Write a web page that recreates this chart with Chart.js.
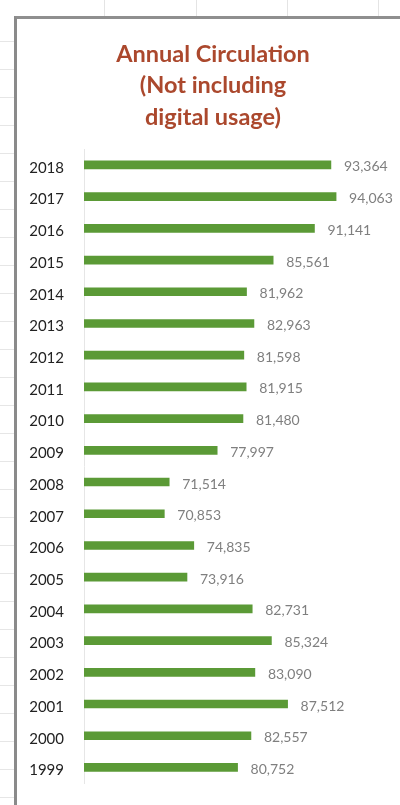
<!DOCTYPE html>
<html>
<head>
<meta charset="utf-8">
<script src="https://cdn.jsdelivr.net/npm/chart.js@4/dist/chart.umd.min.js"></script>
<style>
  html, body { margin: 0; padding: 0; width: 400px; height: 805px; overflow: hidden; background: #ffffff; }
  #sheet {
    position: absolute; left: 0; top: 0; width: 400px; height: 805px;
    background:
      linear-gradient(to right, transparent 104px, #e4e4e4 104px, #e4e4e4 105px, transparent 105px,
                                transparent 196px, #e4e4e4 196px, #e4e4e4 197px, transparent 197px,
                                transparent 287px, #e4e4e4 287px, #e4e4e4 288px, transparent 288px,
                                transparent 378px, #e4e4e4 378px, #e4e4e4 379px, transparent 379px) 0 0 / 400px 16px no-repeat,
      repeating-linear-gradient(to bottom, transparent 0px, transparent 27px, #e6e6e6 27px, #e6e6e6 28px) 0 14px / 14px 805px no-repeat;
  }
  #box {
    position: absolute; left: 14px; top: 16px; width: 386px; height: 789px;
    border-left: 3px solid #8a8a8a; border-top: 3px solid #8f8f8f;
    background: #ffffff;
  }
  #wrap { position: absolute; left: 17px; top: 19px; width: 383px; height: 786px; }
</style>
</head>
<body>
<div id="sheet"></div>
<div id="box"></div>
<div id="wrap"><canvas id="c"></canvas></div>
<script>
const years = ['1999','2000','2001','2002','2003','2004','2005','2006','2007','2008',
               '2009','2010','2011','2012','2013','2014','2015','2016','2017','2018'];
const circulation = [80752, 82557, 87512, 83090, 85324, 82731, 73916, 74835, 70853, 71514,
                     77997, 81480, 81915, 81598, 82963, 81962, 85561, 91141, 94063, 93364];
const titleLines = ['Annual Circulation', '(Not including', 'digital usage)'];
const axisMin = 60000;
const axisMax = 102700;

const labelPlugin = {
  id: 'barLabels',
  afterDatasetsDraw(chart) {
    const ctx = chart.ctx;
    const meta = chart.getDatasetMeta(0);
    ctx.save();
    ctx.font = '14px Lato';
    ctx.fillStyle = '#7f7f7f';
    ctx.textAlign = 'left';
    ctx.textBaseline = 'middle';
    meta.data.forEach((bar, i) => {
      ctx.fillText(circulation[i].toLocaleString('en-US'), bar.x + 13, bar.y + 2);
    });
    ctx.restore();
  }
};

new Chart(document.getElementById('c'), {
  type: 'bar',
  data: {
    labels: years,
    datasets: [{
      data: circulation,
      backgroundColor: '#5b9a36',
      borderWidth: 0,
      barThickness: 8
    }]
  },
  options: {
    indexAxis: 'y',
    responsive: true,
    maintainAspectRatio: false,
    animation: false,
    layout: { padding: { left: 9, right: 0, top: 0, bottom: 21.7 } },
    plugins: {
      legend: { display: false },
      tooltip: { enabled: false },
      title: {
        display: true,
        text: titleLines,
        color: '#ab482d',
        font: { family: 'Lato', size: 23.5, weight: 'bold', lineHeight: 1.34 },
        padding: { top: 19.5, bottom: 16.1 }
      }
    },
    scales: {
      x: {
        min: axisMin,
        max: axisMax,
        display: false
      },
      y: {
        reverse: true,
        grid: { display: false, drawTicks: false },
        border: { display: true, color: '#e6e6e6', width: 1 },
        ticks: {
          color: '#222222',
          font: { family: 'Lato', size: 15 },
          padding: 20,
          labelOffset: 3
        },
        afterFit(scale) {
          scale.width = 58;
          scale.paddingTop = 0;
          scale.paddingBottom = 0;
        }
      }
    }
  },
  plugins: [labelPlugin]
});
</script>
</body>
</html>
